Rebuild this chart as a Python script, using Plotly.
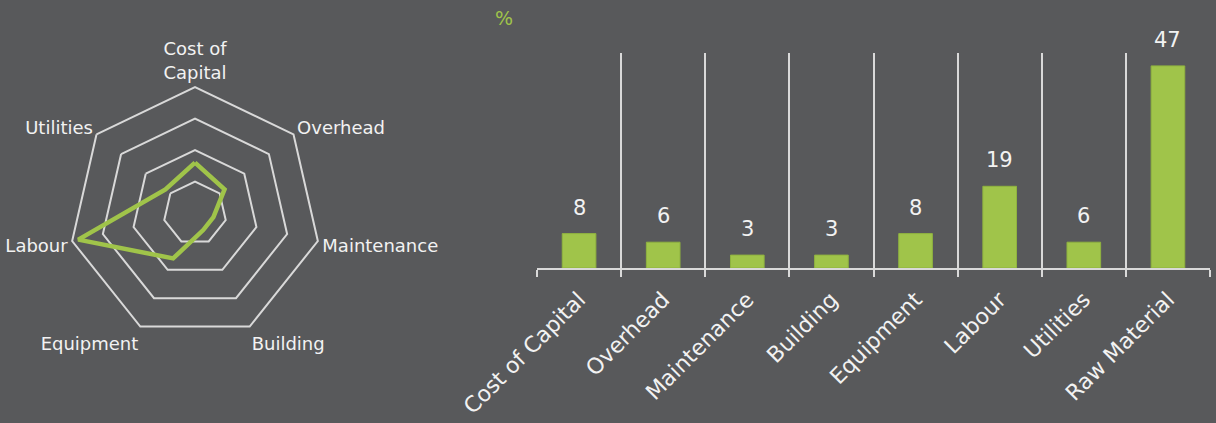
import plotly.graph_objects as go

radar_categories = ["Cost of<br>Capital", "Overhead", "Maintenance", "Building", "Equipment", "Labour", "Utilities"]
radar_values = [8, 6, 3, 3, 8, 19, 6]

bar_categories = ["Cost of Capital", "Overhead", "Maintenance", "Building", "Equipment", "Labour", "Utilities", "Raw Material"]
bar_values = [8, 6, 3, 3, 8, 19, 6, 47]

BG = "#58595b"
GRID = "#d9d9d9"
GREEN = "#a0c44a"
TEXT = "#f2f2f2"
FONT = "Century Gothic, DejaVu Sans, sans-serif"

fig = go.Figure()

fig.add_trace(go.Scatterpolar(
    r=radar_values + radar_values[:1],
    theta=radar_categories + radar_categories[:1],
    mode="lines",
    line=dict(color=GREEN, width=4.5),
    showlegend=False,
    hoverinfo="skip",
))

fig.add_trace(go.Bar(
    x=bar_categories, y=bar_values,
    marker=dict(color=GREEN, line=dict(color="#8fb33f", width=1)),
    showlegend=False, xaxis="x", yaxis="y",
))

for c, v in zip(bar_categories, bar_values):
    fig.add_annotation(x=c, y=v, xref="x", yref="y", text=str(v), showarrow=False,
                       yanchor="bottom", yshift=12,
                       font=dict(family=FONT, size=21, color=TEXT))

fig.add_annotation(x=493 / 1216, y=1 - 18 / 423, xref="paper", yref="paper", text="%",
                   showarrow=False, xanchor="left", yanchor="middle",
                   font=dict(family=FONT, size=19, color=GREEN))

fig.update_layout(
    width=1216, height=423,
    paper_bgcolor=BG, plot_bgcolor=BG,
    margin=dict(l=0, r=0, t=0, b=0, autoexpand=False),
    font=dict(family=FONT, size=18, color=TEXT),
    bargap=0.6,
    polar=dict(
        domain=dict(x=[69 / 1216, 321 / 1216], y=[84 / 423, 336 / 423]),
        bgcolor=BG,
        radialaxis=dict(range=[0, 20], tickvals=[5, 10, 15, 20], showticklabels=False,
                        ticks="", showline=False, gridcolor=GRID, gridwidth=2),
        angularaxis=dict(direction="clockwise", rotation=90, showgrid=False,
                         showline=True, linecolor=GRID, linewidth=2, ticks="",
                         tickfont=dict(family=FONT, size=18, color=TEXT)),
        gridshape="linear",
    ),
    xaxis=dict(domain=[537 / 1216, 1210 / 1216], range=[-0.5, 7.5], automargin=False,
               showline=True, linecolor=GRID, linewidth=2,
               ticks="outside", ticklen=7, tickwidth=2, tickcolor=GRID,
               tickson="boundaries", showgrid=True, gridcolor=GRID, gridwidth=2,
               ticklabelstandoff=8,
               tickangle=-45, tickfont=dict(family=FONT, size=22, color=TEXT)),
    yaxis=dict(domain=[155 / 423, 370 / 423], range=[0, 50], automargin=False,
               showticklabels=False, showgrid=False, zeroline=False, showline=False),
)

fig.write_html("out.html")
